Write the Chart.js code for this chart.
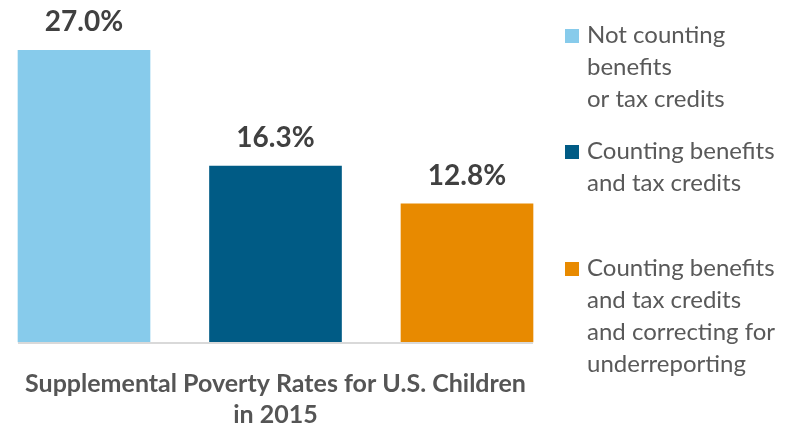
<!DOCTYPE html>
<html>
<head>
<meta charset="utf-8">
<script src="https://cdn.jsdelivr.net/npm/chart.js@4.4.1/dist/chart.umd.min.js"></script>
<style>
  html, body { margin: 0; padding: 0; background: #ffffff; }
  #wrap { width: 796px; height: 427px; position: relative; }
</style>
</head>
<body>
<div id="wrap"><canvas id="myChart" width="796" height="427"></canvas></div>
<script>
const categories = ["Not counting benefits or tax credits", "Counting benefits and tax credits", "Counting benefits and tax credits and correcting for underreporting"];
const rates = [27.0, 16.3, 12.8];
const barColors = ["#87cbeb", "#005b85", "#e88a00"];
const legendLines = [
  ["Not counting", "benefits", "or tax credits"],
  ["Counting benefits", "and tax credits"],
  ["Counting benefits", "and tax credits", "and correcting for", "underreporting"]
];
const titleLines = ["Supplemental Poverty Rates for U.S. Children", "in 2015"];

const FONT = "Lato, 'Open Sans', sans-serif";

// value labels, baseline line, legend and title
const extras = {
  id: "extras",
  afterDatasetsDraw(chart) {
    const ctx = chart.ctx;
    const bars = chart.getDatasetMeta(0).data;
    ctx.save();

    // light grey baseline under the bars
    const first = bars[0], last = bars[bars.length - 1];
    ctx.fillStyle = "#d9d9d9";
    ctx.fillRect(first.x - first.width / 2, chart.chartArea.bottom, (last.x + last.width / 2) - (first.x - first.width / 2), 2);

    // percentage above each bar
    ctx.fillStyle = "#404040";
    ctx.font = "bold 28px " + FONT;
    ctx.textAlign = "center";
    ctx.textBaseline = "alphabetic";
    bars.forEach((bar, i) => {
      ctx.fillText(rates[i].toFixed(1) + "%", bar.x, bar.y - 19);
    });

    // legend
    const entryTops = [29, 145, 262];
    ctx.textAlign = "left";
    ctx.font = "24px " + FONT;
    legendLines.forEach((lines, i) => {
      const top = entryTops[i];
      ctx.fillStyle = barColors[i];
      ctx.fillRect(565, top, 14, 14);
      ctx.fillStyle = "#595959";
      lines.forEach((t, j) => ctx.fillText(t, 587, top + 14 + j * 32));
    });

    // title under the bars
    const cx = (first.x - first.width / 2 + last.x + last.width / 2) / 2;
    ctx.textAlign = "center";
    ctx.font = "bold 25px " + FONT;
    ctx.fillStyle = "#555555";
    titleLines.forEach((t, j) => ctx.fillText(t, cx, 392 + j * 31));

    ctx.restore();
  }
};

new Chart(document.getElementById("myChart"), {
  type: "bar",
  data: {
    labels: categories,
    datasets: [{
      data: rates,
      backgroundColor: barColors,
      borderWidth: 0,
      barThickness: 132,
      clip: false
    }]
  },
  options: {
    responsive: false,
    animation: false,
    layout: { padding: { left: 84, right: 329, top: 18, bottom: 85 } },
    scales: {
      x: { display: false, offset: false },
      y: { display: false, min: 0, max: 30 }
    },
    plugins: {
      legend: { display: false },
      tooltip: { enabled: false }
    }
  },
  plugins: [extras]
});
</script>
</body>
</html>
